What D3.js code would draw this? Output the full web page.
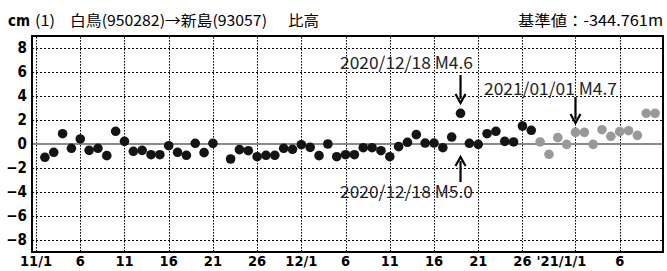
<!DOCTYPE html>
<html><head><meta charset="utf-8">
<script src="https://cdn.jsdelivr.net/npm/d3@7"></script>
<style>
body{margin:0;background:#fff;}
svg{display:block;}
</style></head>
<body>
<svg id="chart" width="667" height="271"></svg>
<script>
// ---- data ----
const blackStart = "2020-11-02";
const blackValues = [-1.11,-0.69,0.86,-0.36,0.42,-0.53,-0.36,-0.97,1.06,0.22,
  -0.61,-0.53,-0.89,-0.89,-0.14,-0.69,-0.94,0.06,-0.72,0.06,
  null,-1.25,-0.47,-0.56,-1.06,-0.94,-0.94,-0.36,-0.44,-0.06,
  -0.28,-0.97,0.0,-1.06,-0.89,-0.89,-0.31,-0.31,-0.56,-1.06,
  -0.22,0.14,0.78,0.08,0.08,-0.31,0.58,2.56,0.06,-0.03,
  0.86,1.06,0.22,0.17,1.5,1.14];
const grayStart = "2020-12-28";
const grayValues = [0.17,-0.86,0.53,-0.03,0.97,0.97,-0.03,1.19,0.64,1.03,1.11,0.72,2.56,2.56];
const xTickDates = ["2020-11-01","2020-11-06","2020-11-11","2020-11-16","2020-11-21","2020-11-26",
  "2020-12-01","2020-12-06","2020-12-11","2020-12-16","2020-12-21","2020-12-26","2021-01-01","2021-01-06"];
const xTickLabels = ["11/1","6","11","16","21","26","12/1","6","11","16","21","26","'21/1/1","6"];
const yTicks = [-8,-6,-4,-2,0,2,4,6,8];
const yTickLabels = ["\u22128","\u22126","\u22124","\u22122","0","2","4","6","8"];
const titleUnit = "cm";
const titleNo = "(1)";
const titleRoute = "白鳥(950282)→新島(93057)";
const titleKind = "比高";
const titleBase = "基準値：-344.761m";
const annotations = [
  {text:"2020/12/18 M4.6", date:"2020-12-19"},
  {text:"2021/01/01 M4.7", date:"2021-01-01"},
  {text:"2020/12/18 M5.0", date:"2020-12-19"}
];

// ---- build ----
const parse = d3.utcParse("%Y-%m-%d");
const DAY = 864e5;
function series(start, vals){
  const s = parse(start).getTime();
  return vals.map((v,i)=>({date:new Date(s+i*DAY), v})).filter(d=>d.v!==null);
}
const blackPts = series(blackStart, blackValues);
const grayPts = series(grayStart, grayValues);

const L=32,R=663,T=36,B=252;
const svg = d3.select("#chart");
const x = d3.scaleUtc()
  .domain([new Date(Date.UTC(2020,9,31,13)), new Date(Date.UTC(2021,0,10,21,30))])
  .range([L,R]);
const y = d3.scaleLinear().domain([-9,9]).range([B,T]);

const tickFont = "'Liberation Sans Narrow','DejaVu Sans Condensed',sans-serif";
const cjk = "'Noto Sans CJK JP','Noto Sans CJK SC',sans-serif";

// horizontal dotted grid
let hD = "";
yTicks.filter(t=>t!==0).forEach(t=>{
  const yy = Math.round(y(t))+0.5;
  hD += `M${L},${yy}H${R}`;
});
svg.append("path").attr("d",hD).attr("fill","none")
  .attr("stroke","#000").attr("stroke-width",1).attr("stroke-dasharray","2,2");

// vertical dotted grid drawn as small dot rects
const dotYs = d3.range(T+1, B, 3);
const vg = svg.append("g");
xTickDates.forEach(d=>{
  const xx = Math.round(x(parse(d)));
  vg.append("g").selectAll("rect").data(dotYs).join("rect")
    .attr("x",xx).attr("y",v=>v).attr("width",1).attr("height",1.6)
    .attr("fill","#000");
});

// zero line
svg.append("path").attr("d",`M${L},${y(0)}H${R}`)
  .attr("stroke","#8a8a8a").attr("stroke-width",2);

// points
svg.append("g").selectAll("circle").data(blackPts).join("circle")
  .attr("cx",d=>x(d.date)).attr("cy",d=>y(d.v)).attr("r",4.8).attr("fill","#141414");
svg.append("g").selectAll("circle").data(grayPts).join("circle")
  .attr("cx",d=>x(d.date)).attr("cy",d=>y(d.v)).attr("r",4.8).attr("fill","#999");

// frame
svg.append("rect").attr("x",L).attr("y",T).attr("width",R-L).attr("height",B-T)
  .attr("fill","none").attr("stroke","#000").attr("stroke-width",2);

// y labels
svg.append("g").selectAll("text").data(yTicks).join("text")
  .attr("x",27).attr("y",d=>y(d)+5)
  .attr("text-anchor","end").attr("font-family",tickFont).attr("font-weight","bold")
  .attr("font-size",15).attr("fill","#000")
  .text((d,i)=>yTickLabels[i]);

// x labels
svg.append("g").selectAll("text").data(xTickDates).join("text")
  .attr("x",(d,i)=>x(parse(d)) + (xTickLabels[i].startsWith("'")?-14:0))
  .attr("y",266)
  .attr("text-anchor","middle").attr("font-family",tickFont).attr("font-weight","bold")
  .attr("font-size",14.5).attr("fill","#000")
  .text((d,i)=>xTickLabels[i]);

// title
const ty = 26;
svg.append("text").attr("x",8).attr("y",ty).attr("font-family",tickFont).attr("font-weight","bold")
  .attr("font-size",15).text(titleUnit);
svg.append("text").attr("x",35).attr("y",ty).attr("font-family",cjk).attr("font-size",15)
  .attr("textLength",20).attr("lengthAdjust","spacingAndGlyphs").text(titleNo);
svg.append("text").attr("x",70).attr("y",ty).attr("font-family",cjk).attr("font-size",15)
  .attr("textLength",197).attr("lengthAdjust","spacingAndGlyphs").text(titleRoute);
svg.append("text").attr("x",288).attr("y",ty).attr("font-family",cjk).attr("font-size",15)
  .attr("textLength",31).attr("lengthAdjust","spacingAndGlyphs").text(titleKind);
svg.append("text").attr("x",518).attr("y",ty).attr("font-family",cjk).attr("font-size",15)
  .attr("textLength",145).attr("lengthAdjust","spacingAndGlyphs").text(titleBase);

// annotations
const annPos = [
  {tx:340, ty:69, a0:75, a1:103},
  {tx:484, ty:95, a0:97, a1:123},
  {tx:340, ty:198, a0:182, a1:157}
];
annotations.forEach((a,i)=>{
  const p = annPos[i];
  const ax = x(parse(a.date));
  svg.append("text").attr("x",p.tx).attr("y",p.ty).attr("font-family",cjk)
    .attr("font-size",17).attr("textLength",133).attr("lengthAdjust","spacingAndGlyphs")
    .attr("fill","#222").text(a.text);
  const dir = p.a1>p.a0?1:-1;
  svg.append("path").attr("d",`M${ax},${p.a0}V${p.a1-dir*4}`)
    .attr("stroke","#000").attr("stroke-width",2.2);
  svg.append("path")
    .attr("d",`M${ax-5},${p.a1-dir*9} L${ax},${p.a1} L${ax+5},${p.a1-dir*9}`)
    .attr("fill","none").attr("stroke","#000").attr("stroke-width",2.2);
});
</script>
</body></html>
